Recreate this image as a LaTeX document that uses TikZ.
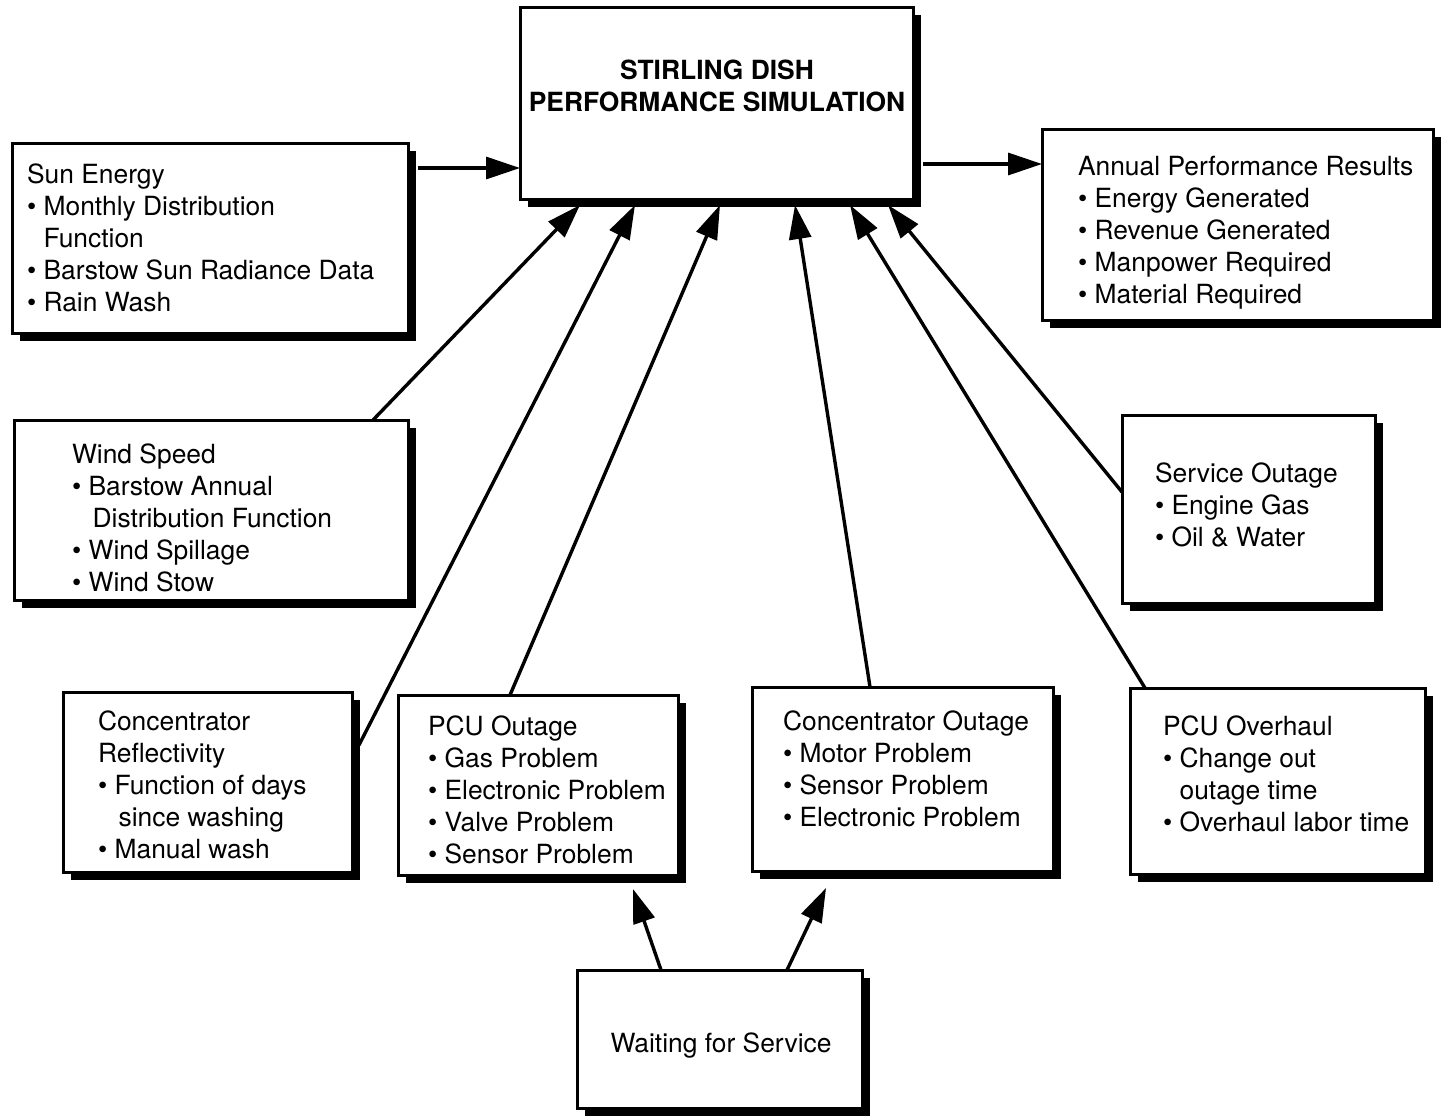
\documentclass[tikz,border=0pt]{standalone}
\usepackage{fontspec}
\setmainfont{TeX Gyre Heros}
\usetikzlibrary{arrows.meta,shadows}
\newcommand\bl{•\ }
\newcommand\ind{\phantom{•\ }}
\begin{document}
\begin{tikzpicture}[x=0.5pt,y=-0.5pt,
  box/.style={draw, line width=1.5pt, fill=white, inner sep=0pt, outer sep=0pt, anchor=north west,
    drop shadow={shadow xshift=4pt, shadow yshift=-4pt, fill=black, opacity=1}},
  txt/.style={inner sep=0pt, outer sep=0pt, anchor=base west, font=\fontsize{13.2}{16}\selectfont},
  ctxt/.style={inner sep=0pt, outer sep=0pt, anchor=base, font=\fontsize{13.2}{16}\selectfont},
  arr/.style={line width=1.7pt, -{Triangle[length=17pt,width=11pt]}}]
\useasboundingbox (0,0) rectangle (1449,1116);

% boxes
\node[box, minimum width=196.5pt, minimum height=96pt] (main) at (520,7) {};
\node[box, minimum width=198pt, minimum height=95pt] (sun) at (12,143) {};
\node[box, minimum width=195.5pt, minimum height=95.5pt] (annual) at (1042,129) {};
\node[box, minimum width=197pt, minimum height=90pt] (wind) at (14,420) {};
\node[box, minimum width=126.5pt, minimum height=94pt] (service) at (1122,415) {};
\node[box, minimum width=144.5pt, minimum height=90pt] (crefl) at (63,692) {};
\node[box, minimum width=140pt, minimum height=90pt] (pcuo) at (398,695) {};
\node[box, minimum width=150.5pt, minimum height=92pt] (couo) at (752,687) {};
\node[box, minimum width=147.5pt, minimum height=93pt] (pcuov) at (1130,688) {};
\node[box, minimum width=142.5pt, minimum height=69pt] (wait) at (577,970) {};

% texts
\node[ctxt] (mainT) at (717,79) {\bfseries\begin{tabular}[t]{@{}c@{}}STIRLING DISH\\PERFORMANCE SIMULATION\end{tabular}};
\node[txt] (sunT) at (27,183) {\begin{tabular}[t]{@{}l@{}}Sun Energy\\\bl Monthly Distribution\\\ind Function\\\bl Barstow Sun Radiance Data\\\bl Rain Wash\end{tabular}};
\node[txt] (annualT) at (1078,175) {\begin{tabular}[t]{@{}l@{}}Annual Performance Results\\\bl Energy Generated\\\bl Revenue Generated\\\bl Manpower Required\\\bl Material Required\end{tabular}};
\node[txt] (windT) at (72,463) {\begin{tabular}[t]{@{}l@{}}Wind Speed\\\bl Barstow Annual\\\ind\hspace{2pt}Distribution Function\\\bl Wind Spillage\\\bl Wind Stow\end{tabular}};
\node[txt] (serviceT) at (1155,482) {\begin{tabular}[t]{@{}l@{}}Service Outage\\\bl Engine Gas\\\bl Oil \& Water\end{tabular}};
\node[txt] (creflT) at (98,730) {\begin{tabular}[t]{@{}l@{}}Concentrator\\Reflectivity\\\bl Function of days\\\ind\hspace{2pt}since washing\\\bl Manual wash\end{tabular}};
\node[txt] (pcuoT) at (428,735) {\begin{tabular}[t]{@{}l@{}}PCU Outage\\\bl Gas Problem\\\bl Electronic Problem\\\bl Valve Problem\\\bl Sensor Problem\end{tabular}};
\node[txt] (couoT) at (783,730) {\begin{tabular}[t]{@{}l@{}}Concentrator Outage\\\bl Motor Problem\\\bl Sensor Problem\\\bl Electronic Problem\end{tabular}};
\node[txt] (pcuovT) at (1163,735) {\begin{tabular}[t]{@{}l@{}}PCU Overhaul\\\bl Change out\\\ind outage time\\\bl Overhaul labor time\end{tabular}};
\node[ctxt] (waitT) at (721,1052) {Waiting for Service};

% connectors
\draw[arr] ([shift={(406,25)}]sun.north west) -- ([shift={(0,161)}]main.north west);
\draw[arr] ([shift={(403,157)}]main.north west) -- ([shift={(0,35)}]annual.north west);
\draw[arr] ([shift={(359,0)}]wind.north west) -- ([shift={(60,198)}]main.north west);
\draw[arr] ([shift={(296,53)}]crefl.north west) -- ([shift={(115,198)}]main.north west);
\draw[arr] ([shift={(112,0)}]pcuo.north west) -- ([shift={(200,198)}]main.north west);
\draw[arr] ([shift={(118,0)}]couo.north west) -- ([shift={(275,198)}]main.north west);
\draw[arr] ([shift={(15,0)}]pcuov.north west) -- ([shift={(330,198)}]main.north west);
\draw[arr] ([shift={(0,77)}]service.north west) -- ([shift={(368,198)}]main.north west);
\draw[arr] ([shift={(84,0)}]wait.north west) -- ([shift={(235,194)}]pcuo.north west);
\draw[arr] ([shift={(210,0)}]wait.north west) -- ([shift={(74,201)}]couo.north west);
\end{tikzpicture}
\end{document}
